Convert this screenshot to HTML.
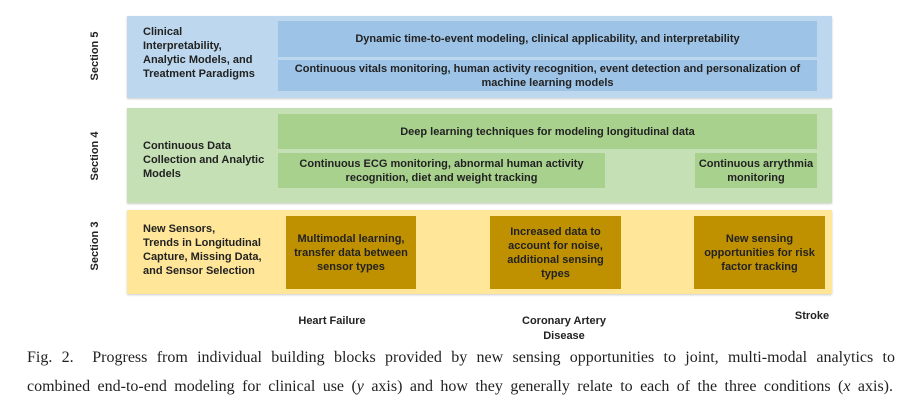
<!DOCTYPE html>
<html><head><style>
body{margin:0;width:909px;height:420px;background:#fff;position:relative;overflow:hidden;font-family:"Liberation Sans",sans-serif}
div{position:absolute;box-sizing:border-box}
.b{font-weight:bold;font-size:11px;color:#222;line-height:14px}
.c{display:flex;align-items:center;justify-content:center;text-align:center}
.sec{transform:rotate(-90deg);font-weight:bold;font-size:11px;color:#222;width:80px;text-align:center}
.cap{font-family:'Liberation Serif',serif;font-size:16px;line-height:21px;color:#222;text-align:justify;text-align-last:justify;white-space:nowrap}
</style></head><body>
<div style="left:127px;top:16px;width:705px;height:82px;background:#bdd7ee;box-shadow:0 1px 2px #ccc"></div>
<div style="left:278px;top:21px;width:539px;height:36px;background:#9dc3e6" class="b c">Dynamic time-to-event modeling, clinical applicability, and interpretability</div>
<div style="left:278px;top:60px;width:539px;height:31px;background:#9dc3e6" class="b c">Continuous vitals monitoring, human activity recognition, event detection and personalization of<br>machine learning models</div>
<div class="b" style="left:143px;top:25px;">Clinical<br>Interpretability,<br>Analytic Models, and<br>Treatment Paradigms</div>
<div class="sec" style="left:55px;top:50px">Section 5</div>

<div style="left:127px;top:108px;width:705px;height:95px;background:#c5e0b4;box-shadow:0 1px 2px #ccc"></div>
<div style="left:278px;top:114px;width:539px;height:35px;background:#a9d18e" class="b c">Deep learning techniques for modeling longitudinal data</div>
<div style="left:278px;top:153px;width:327px;height:35px;background:#a9d18e" class="b c">Continuous ECG monitoring, abnormal human activity<br>recognition, diet and weight tracking</div>
<div style="left:695px;top:153px;width:122px;height:35px;background:#a9d18e" class="b c">Continuous arrythmia<br>monitoring</div>
<div class="b" style="left:143px;top:139px;">Continuous Data<br>Collection and Analytic<br>Models</div>
<div class="sec" style="left:55px;top:150px">Section 4</div>

<div style="left:127px;top:210px;width:705px;height:84px;background:#ffe699;box-shadow:0 1px 2px #ccc"></div>
<div style="left:286px;top:216px;width:130px;height:73px;background:#bf9000" class="b c">Multimodal learning,<br>transfer data between<br>sensor types</div>
<div style="left:490px;top:216px;width:131px;height:73px;background:#bf9000" class="b c">Increased data to<br>account for noise,<br>additional sensing<br>types</div>
<div style="left:694px;top:216px;width:131px;height:73px;background:#bf9000" class="b c">New sensing<br>opportunities for risk<br>factor tracking</div>
<div class="b" style="left:143px;top:222px;">New Sensors,<br>Trends in Longitudinal<br>Capture, Missing Data,<br>and Sensor Selection</div>
<div class="sec" style="left:55px;top:240px">Section 3</div>

<div class="b" style="left:282px;top:314px;width:100px;text-align:center">Heart Failure</div>
<div class="b" style="left:504px;top:314px;width:120px;text-align:center;line-height:15px">Coronary Artery<br>Disease</div>
<div class="b" style="left:780px;top:309px;width:64px;text-align:center">Stroke</div>

<div class="cap" style="left:27px;top:347px;width:868px;">Fig. 2.&nbsp; Progress from individual building blocks provided by new sensing opportunities to joint, multi-modal analytics to</div>
<div class="cap" style="left:27px;top:376px;width:866px;">combined end-to-end modeling for clinical use (<i>y</i> axis) and how they generally relate to each of the three conditions (<i>x</i> axis).</div>
</body></html>
